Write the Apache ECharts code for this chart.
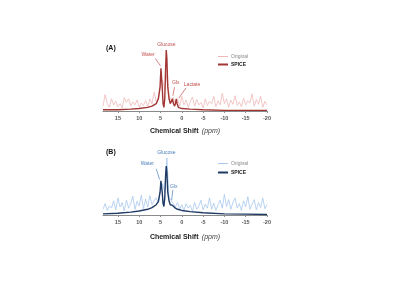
<!DOCTYPE html>
<html>
<head>
<meta charset="utf-8">
<title>SPICE spectra</title>
<script src="https://cdn.jsdelivr.net/npm/echarts@6/dist/echarts.min.js"></script>
<style>
  html, body { margin: 0; padding: 0; background: #fff; }
  #chart { width: 400px; height: 300px; }
</style>
</head>
<body>
<div id="chart"></div>
<script>
// ppm values
var noisePpm = [18.5, 18, 17.5, 17, 16.5, 16, 15.5, 15, 14.5, 14, 13.5, 13, 12.5, 12, 11.5, 11, 10.5, 10, 9.5, 9,
  8.5, 8, 7.5, 7, 6.5, 6, 5.5, 5, 4.5, 4, 3.5, 3, 2.5, 2, 1.5, 1, 0.5, 0, -0.5, -1,
  -1.5, -2, -2.5, -3, -3.5, -4, -4.5, -5, -5.5, -6, -6.5, -7, -7.5, -8, -8.5, -9, -9.5, -10, -10.5, -11,
  -11.5, -12, -12.5, -13, -13.5, -14, -14.5, -15, -15.5, -16, -16.5, -17, -17.5, -18, -18.5, -19, -19.5, -20];

// panel A (red)
var origA = [0.08, 0.27, 0.12, 0.06, 0.2, 0.1, 0.16, 0.07, 0.12, 0.05, 0.22, 0.14, 0.2, 0.08, 0.15, 0.1, 0.18, 0.06, 0.13, 0.09,
  0.17, 0.07, 0.2, 0.12, 0.31, 0.15, 0.22, 0.4, 0.5, 0.35, 0.6, 0.25, 0.18, 0.22, 0.12, 0.2, 0.08, 0.24, 0.1, 0.18,
  0.06, 0.15, 0.23, 0.08, 0.19, 0.1, 0.14, 0.05, 0.2, 0.09, 0.16, 0.12, 0.24, 0.07, 0.17, 0.1, 0.29, 0.12, 0.2, 0.06,
  0.18, 0.11, 0.25, 0.09, 0.15, 0.07, 0.21, 0.1, 0.17, 0.13, 0.28, 0.08, 0.19, 0.11, 0.24, 0.06, 0.16, 0.1];
var spicePpmA = [18.5, 15, 12, 10, 8, 7, 6, 5.5, 5.1, 4.9, 4.75, 4.6, 4.4, 4.2, 4.0, 3.8, 3.65, 3.5, 3.3, 3.0,
  2.7, 2.4, 2.2, 2.0, 1.7, 1.5, 1.3, 1.1, 0.8, 0, -2, -5, -10, -15, -20];
var spiceA = [0.02, 0.02, 0.03, 0.04, 0.06, 0.08, 0.12, 0.2, 0.4, 0.7, 0.73, 0.4, 0.12, 0.06, 0.2, 0.7, 1.0, 0.85, 0.4, 0.2,
  0.12, 0.15, 0.2, 0.13, 0.08, 0.12, 0.2, 0.12, 0.06, 0.04, 0.03, 0.02, 0.01, 0.01, 0.01];

// panel B (blue)
var origB = [0.1, 0.2, 0.08, 0.16, 0.12, 0.25, 0.09, 0.3, 0.14, 0.22, 0.07, 0.26, 0.12, 0.2, 0.33, 0.1, 0.24, 0.16, 0.35, 0.11,
  0.28, 0.14, 0.34, 0.18, 0.25, 0.3, 0.22, 0.45, 0.55, 0.4, 1.0, 0.3, 0.26, 0.2, 0.14, 0.22, 0.1, 0.18, 0.08, 0.2,
  0.12, 0.17, 0.06, 0.22, 0.1, 0.16, 0.26, 0.09, 0.19, 0.12, 0.3, 0.1, 0.21, 0.08, 0.18, 0.26, 0.12, 0.36, 0.15, 0.27,
  0.1, 0.22, 0.3, 0.12, 0.2, 0.08, 0.25, 0.14, 0.32, 0.1, 0.19, 0.27, 0.09, 0.22, 0.13, 0.3, 0.11, 0.18];
var spicePpmB = [18.5, 15, 12, 10, 8, 7, 6, 5.5, 5.1, 4.9, 4.75, 4.6, 4.4, 4.2, 4.0, 3.8, 3.65, 3.5, 3.3, 3.0,
  2.7, 2.4, 2.2, 2.0, 1.5, 1.0, 0, -2, -5, -10, -15, -20];
var spiceB = [0.02, 0.03, 0.05, 0.07, 0.1, 0.13, 0.18, 0.24, 0.4, 0.6, 0.62, 0.4, 0.2, 0.15, 0.3, 0.7, 0.86, 0.75, 0.4, 0.25,
  0.18, 0.2, 0.17, 0.14, 0.12, 0.1, 0.08, 0.06, 0.04, 0.02, 0.015, 0.01];

function pairs(xs, ys) {
  return xs.map(function (x, i) { return [x, ys[i]]; });
}

var red = '#c0504d', blue = '#4a7ebb';
var nameMap = { 'Original A': 'Original', 'SPICE A': 'SPICE', 'Original B': 'Original', 'SPICE B': 'SPICE' };

function xAxis(idx, gap) {
  return {
    type: 'value', gridIndex: idx, inverse: true, min: -20, max: 18.5, interval: 5,
    splitLine: { show: false },
    axisLine: { lineStyle: { color: '#8a8a8a', width: 1 } },
    axisTick: { show: true, length: 2, lineStyle: { color: '#8a8a8a' } },
    axisLabel: { fontSize: 5.5, fontWeight: 'bold', color: '#555', margin: 4, showMaxLabel: false,
      fontFamily: 'Liberation Sans' },
    name: '{b|Chemical Shift} {i|(ppm)}', nameLocation: 'middle', nameGap: gap,
    nameTextStyle: { rich: {
      b: { fontSize: 7, fontWeight: 'bold', color: '#222', fontFamily: 'Liberation Sans' },
      i: { fontSize: 7, fontStyle: 'italic', color: '#444', fontFamily: 'Liberation Sans' } } }
  };
}
function yAxis(idx) {
  return { type: 'value', gridIndex: idx, min: 0, max: 1, show: false };
}
function legend(name, top, lh, bold) {
  return {
    data: [name], left: 218, top: top, orient: 'vertical', icon: 'rect',
    itemWidth: 10, itemHeight: lh, itemGap: 2, padding: 0,
    formatter: function (n) { return nameMap[n]; },
    textStyle: { fontSize: 5, color: bold ? '#222' : '#888', fontWeight: bold ? 'bold' : 'normal',
      fontFamily: 'Liberation Sans', padding: [0, 0, 0, -2] }
  };
}

var chart = echarts.init(document.getElementById('chart'));
chart.setOption({
  backgroundColor: '#fff',
  animation: false,
  grid: [
    { left: 103, right: 133, top: 50, height: 61 },
    { left: 103, right: 133, top: 158, height: 57 }
  ],
  xAxis: [xAxis(0, 14), xAxis(1, 16)],
  yAxis: [yAxis(0), yAxis(1)],
  legend: [
    legend('Original A', 54, 1, false),
    legend('SPICE A', 62, 2, true),
    legend('Original B', 161, 1, false),
    legend('SPICE B', 170, 2, true)
  ],
  series: [
    { name: 'Original A', type: 'line', xAxisIndex: 0, yAxisIndex: 0, data: pairs(noisePpm, origA),
      showSymbol: false, color: '#f0b9b9', lineStyle: { width: 0.8 }, z: 1 },
    { name: 'SPICE A', type: 'line', xAxisIndex: 0, yAxisIndex: 0, data: pairs(spicePpmA, spiceA),
      showSymbol: false, color: '#a23634', lineStyle: { width: 1.4 }, z: 2 },
    { name: 'Original B', type: 'line', xAxisIndex: 1, yAxisIndex: 1, data: pairs(noisePpm, origB),
      showSymbol: false, color: '#a8c8ef', lineStyle: { width: 0.8 }, z: 1 },
    { name: 'SPICE B', type: 'line', xAxisIndex: 1, yAxisIndex: 1, data: pairs(spicePpmB, spiceB),
      showSymbol: false, color: '#1f3a64', lineStyle: { width: 1.4 }, z: 2 }
  ]
});

// peak annotations: [panel, label, label ppm, label val, leader from [ppm,val], leader to [ppm,val]]
var peakNotes = [
  [0, 'Glucose', 3.6, 1.08, null, null],
  [0, 'Water', 7.9, 0.92, [6.2, 0.86], [5.0, 0.74]],
  [0, 'Glx', 1.4, 0.46, [1.7, 0.39], [2.1, 0.25]],
  [0, 'Lactate', -2.4, 0.44, [-1.0, 0.38], [0.7, 0.21]],
  [1, 'Glucose', 3.6, 1.1, null, null],
  [1, 'Water', 8.1, 0.91, [6.0, 0.81], [5.2, 0.62]],
  [1, 'Glx', 1.9, 0.5, [2.1, 0.44], [2.4, 0.26]]
];
var g = [];
peakNotes.forEach(function (n) {
  var f = { xAxisIndex: n[0], yAxisIndex: n[0] };
  var p = chart.convertToPixel(f, [n[2], n[3]]);
  var c = n[0] === 0 ? red : blue;
  g.push({ type: 'text', x: p[0], y: p[1], style: { text: n[1], fill: c, fontSize: 5,
    fontFamily: 'Liberation Sans', align: 'center', verticalAlign: 'middle' } });
  if (n[4]) {
    var a = chart.convertToPixel(f, n[4]);
    var b = chart.convertToPixel(f, n[5]);
    g.push({ type: 'line', shape: { x1: a[0], y1: a[1], x2: b[0], y2: b[1] },
      style: { stroke: c, lineWidth: 0.7 } });
  }
});
g.push({ type: 'text', left: 106, top: 45, style: { text: '(A)', fontSize: 7, fontWeight: 'bold',
  fill: '#111', fontFamily: 'Liberation Sans' } });
g.push({ type: 'text', left: 106, top: 149, style: { text: '(B)', fontSize: 7, fontWeight: 'bold',
  fill: '#111', fontFamily: 'Liberation Sans' } });
chart.setOption({ graphic: g });
</script>
</body>
</html>
